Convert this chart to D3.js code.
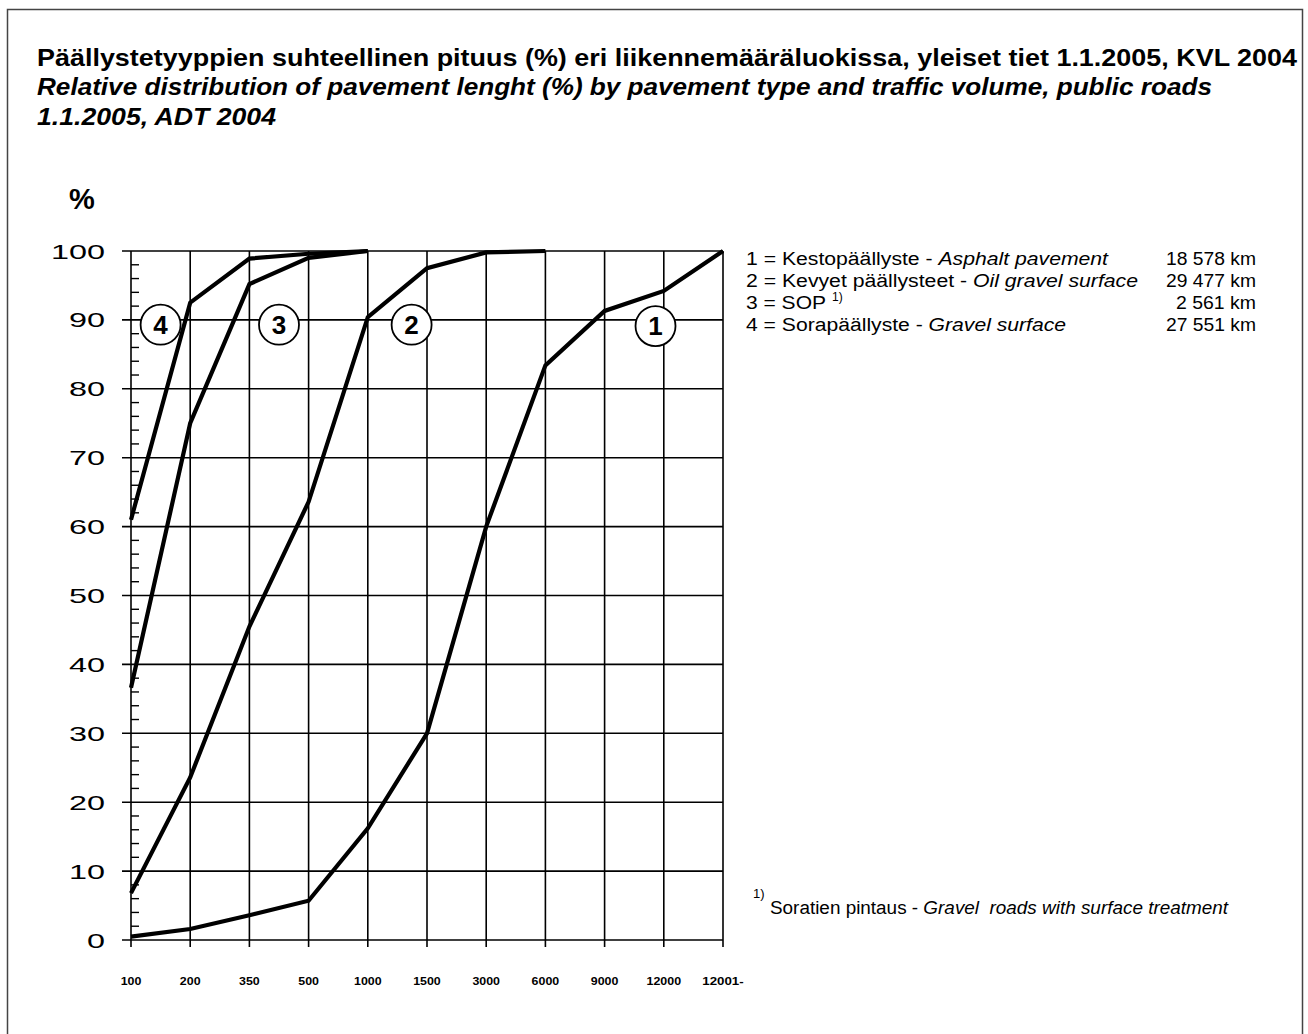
<!DOCTYPE html>
<html>
<head>
<meta charset="utf-8">
<script src="https://cdn.jsdelivr.net/npm/d3@7/dist/d3.min.js"></script>
<style>
  html, body { margin: 0; padding: 0; background: #fff; }
  svg { display: block; font-family: "Liberation Sans", Arial, sans-serif; }
  text { white-space: pre; }
</style>
</head>
<body>
<svg id="chart" width="1308" height="1034"></svg>
<script>
// ---- Data ----
const categories = ["100", "200", "350", "500", "1000", "1500", "3000", "6000", "9000", "12000", "12001-"];
const yTicks = [0, 10, 20, 30, 40, 50, 60, 70, 80, 90, 100];

const series1 = [0.5, 1.6, 3.6, 5.7, 16.2, 30, 60, 83.4, 91.3, 94.2, 100];           // Asphalt pavement
const series2 = [6.8, 23.6, 45.5, 63.6, 90.4, 97.5, 99.8, 100];                       // Oil gravel surface
const series3 = [36.6, 75, 95.2, 99, 100];                                             // SOP
const series4 = [61, 92.5, 98.9, 99.6, 100];                                           // Gravel surface

const seriesIds = ["1", "2", "3", "4"];
const seriesNamesFi = ["Kestopäällyste - ", "Kevyet päällysteet - ", "SOP", "Sorapäällyste - "];
const seriesNamesEn = ["Asphalt pavement", "Oil gravel surface", "", "Gravel surface"];
const seriesLengths = ["18 578 km", "29 477 km", "2 561 km", "27 551 km"];

const titleFi = "Päällystetyyppien suhteellinen pituus (%) eri liikennemääräluokissa, yleiset tiet 1.1.2005, KVL 2004";
const titleEn1 = "Relative distribution of pavement lenght (%) by pavement type and traffic volume, public roads";
const titleEn2 = "1.1.2005, ADT 2004";
const footFi = "Soratien pintaus - ";
const footEn = "Gravel  roads with surface treatment";

// ---- Drawing ----
const svg = d3.select("#chart");
const x = d3.scalePoint().domain(categories).range([131, 723]);
const y = d3.scaleLinear().domain([0, 100]).range([940, 251]);
const step = x.step();

// outer frame
svg.append("path")
  .attr("d", "M7.5,1034 V9.5 H1302.5 V1034")
  .attr("fill", "none").attr("stroke", "#444").attr("stroke-width", 1.5);

// titles (stretched to the reference widths)
const titleRows = [
  { t: titleFi, y: 66, italic: false, w: 1260 },
  { t: titleEn1, y: 95, italic: true, w: 1175 },
  { t: titleEn2, y: 125, italic: true, w: 239 }
];
titleRows.forEach(r => {
  svg.append("text").attr("x", 37).attr("y", r.y)
    .attr("font-size", 24).attr("font-weight", "bold")
    .attr("font-style", r.italic ? "italic" : "normal")
    .attr("textLength", r.w).attr("lengthAdjust", "spacingAndGlyphs")
    .text(r.t);
});

// % label
svg.append("text").attr("x", 82).attr("y", 209).attr("text-anchor", "middle")
  .attr("font-size", 29).attr("font-weight", "bold").text("%");

const g = svg.append("g");

// horizontal grid (major)
g.selectAll("line.hgrid").data(yTicks).join("line")
  .attr("class", "hgrid")
  .attr("x1", 122).attr("x2", x(categories[categories.length - 1]))
  .attr("y1", d => y(d)).attr("y2", d => y(d))
  .attr("stroke", "#000").attr("stroke-width", 1.6);

// vertical grid
g.selectAll("line.vgrid").data(categories).join("line")
  .attr("class", "vgrid")
  .attr("x1", d => x(d)).attr("x2", d => x(d))
  .attr("y1", y(100)).attr("y2", y(0) + 7)
  .attr("stroke", "#000").attr("stroke-width", 1.6);

// minor ticks on y axis
const minor = d3.range(0, 100, 2).filter(v => v % 10 !== 0);
g.selectAll("line.minor").data(minor).join("line")
  .attr("x1", x(categories[0])).attr("x2", x(categories[0]) + 8)
  .attr("y1", d => y(d)).attr("y2", d => y(d))
  .attr("stroke", "#000").attr("stroke-width", 1.4);

// y tick labels (wide appearance)
g.selectAll("text.ylab").data(yTicks).join("text")
  .attr("x", 105).attr("y", d => y(d) + 7.5)
  .attr("text-anchor", "end")
  .attr("font-size", 21)
  .attr("textLength", d => String(d).length * 18)
  .attr("lengthAdjust", "spacingAndGlyphs")
  .text(d => d);

// x tick labels
g.selectAll("text.xlab").data(categories).join("text")
  .attr("x", d => x(d)).attr("y", 985)
  .attr("text-anchor", "middle")
  .attr("font-size", 11).attr("font-weight", "bold")
  .attr("textLength", d => d.length * 6.9)
  .attr("lengthAdjust", "spacingAndGlyphs")
  .text(d => d);

// series lines
const allSeries = [series1, series2, series3, series4];
const line = d3.line().x((d, i) => x(categories[i])).y(d => y(d));
g.selectAll("path.series").data(allSeries).join("path")
  .attr("d", d => line(d))
  .attr("fill", "none").attr("stroke", "#000").attr("stroke-width", 4.2)
  .attr("stroke-linejoin", "miter");

// circled series labels (position: category index + fraction, value)
const circleLabels = [
  { id: "4", at: 0.5, v: 89.3 },
  { id: "3", at: 2.5, v: 89.3 },
  { id: "2", at: 4.74, v: 89.3 },
  { id: "1", at: 8.86, v: 89.1 }
];
const cl = g.selectAll("g.cl").data(circleLabels).join("g")
  .attr("transform", d => `translate(${x(categories[0]) + d.at * step},${y(d.v)})`);
cl.append("circle").attr("r", 20).attr("fill", "#fff").attr("stroke", "#000").attr("stroke-width", 1.8);
cl.append("text").attr("text-anchor", "middle").attr("y", 9)
  .attr("font-size", 26).attr("font-weight", "bold").text(d => d.id);

// legend
const legW = [362, 392, 80, 320];
const numW = [90, 90, 80, 90];
const leg = svg.append("g");
seriesIds.forEach((id, i) => {
  const yy = 265 + i * 22;
  const t = leg.append("text").attr("x", 746).attr("y", yy).attr("font-size", 18)
    .attr("textLength", legW[i]).attr("lengthAdjust", "spacingAndGlyphs");
  t.append("tspan").text(id + " = " + seriesNamesFi[i]);
  if (seriesNamesEn[i]) t.append("tspan").attr("font-style", "italic").text(seriesNamesEn[i]);
  if (id === "3") {
    leg.append("text").attr("x", 746 + legW[i] + 6).attr("y", yy - 8)
      .attr("font-size", 12).text("1)");
  }
  leg.append("text").attr("x", 1256).attr("y", yy).attr("text-anchor", "end")
    .attr("font-size", 18)
    .attr("textLength", numW[i]).attr("lengthAdjust", "spacingAndGlyphs")
    .text(seriesLengths[i]);
});

// footnote
svg.append("text").attr("x", 753).attr("y", 898).attr("font-size", 13).text("1)");
const ft = svg.append("text").attr("x", 770).attr("y", 914).attr("font-size", 18)
  .attr("textLength", 458).attr("lengthAdjust", "spacingAndGlyphs");
ft.append("tspan").text(footFi);
ft.append("tspan").attr("font-style", "italic").text(footEn);
</script>
</body>
</html>
